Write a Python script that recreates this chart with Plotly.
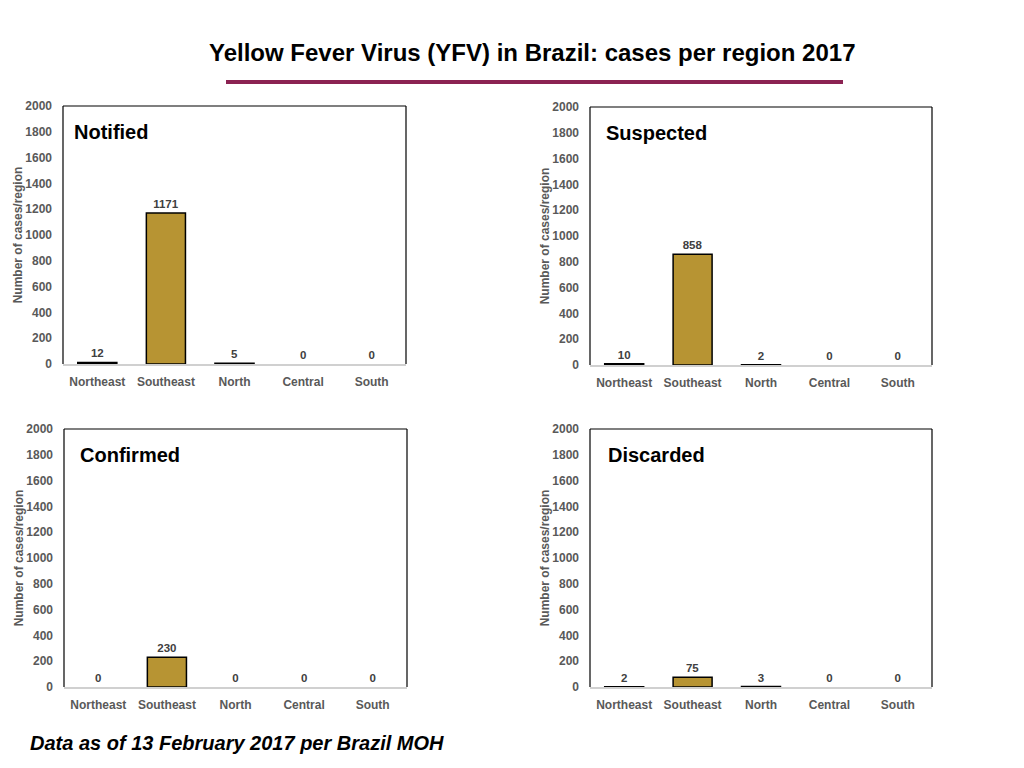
import plotly.graph_objects as go

regions = ['Northeast', 'Southeast', 'North', 'Central', 'South']
notified = [12, 1171, 5, 0, 0]
suspected = [10, 858, 2, 0, 0]
confirmed = [0, 230, 0, 0, 0]
discarded = [2, 75, 3, 0, 0]
y_ticks = list(range(0, 2001, 200))

panels = [
    ('Notified', notified),
    ('Suspected', suspected),
    ('Confirmed', confirmed),
    ('Discarded', discarded),
]

W, H = 1024, 768
# plot area boxes in pixels (left, right, top, bottom)
boxes = [(63, 406, 106, 364), (590, 932, 107, 365),
         (64, 407, 429, 687), (590, 932, 429, 687)]
title_x = [72, 604, 78, 606]

grey = '#595959'
bar_col = '#B79433'
fnt = 'Liberation Sans, Arial, sans-serif'

fig = go.Figure()
layout = dict(width=W, height=H, margin=dict(l=0, r=0, t=0, b=0),
              paper_bgcolor='white', plot_bgcolor='white',
              showlegend=False, bargap=0.43, shapes=[], annotations=[])

for i, (name, vals) in enumerate(panels):
    n = '' if i == 0 else str(i + 1)
    l, r, t, b = boxes[i]
    # zero bars get no outline
    outline = [1.5 if v > 0 else 0 for v in vals]
    fig.add_trace(go.Bar(
        x=regions, y=vals, xaxis='x' + n, yaxis='y' + n,
        marker=dict(color=bar_col, line=dict(color='black', width=outline)),
        text=[str(v) for v in vals], textposition='outside', cliponaxis=False,
        textfont=dict(family=fnt, size=11.5, color='#404040', weight='bold'),
    ))
    layout['xaxis' + n] = dict(
        domain=[l / W, r / W], anchor='y' + n, automargin=False,
        showline=True, linecolor='#d0d0d0', linewidth=1.5,
        showgrid=False, ticks='', ticklabelstandoff=6,
        tickfont=dict(family=fnt, size=12, color=grey, weight='bold'),
        fixedrange=True,
    )
    layout['yaxis' + n] = dict(
        domain=[1 - b / H, 1 - t / H], anchor='x' + n, automargin=False,
        range=[0, 2000], tickvals=y_ticks, showgrid=False, zeroline=False,
        showline=False, ticks='', ticklabelstandoff=10,
        tickfont=dict(family=fnt, size=12, color=grey, weight='bold'),
        title=dict(text='Number of cases/region', standoff=0,
                   font=dict(family=fnt, size=12, color=grey, weight='bold')),
    )
    xd = ('x' + n) + ' domain'
    yd = ('y' + n) + ' domain'
    for x0, y0, x1, y1 in [(0, 1, 1, 1), (0, 0, 0, 1), (1, 0, 1, 1)]:
        layout['shapes'].append(dict(type='line', xref=xd, yref=yd,
                                     x0=x0, y0=y0, x1=x1, y1=y1,
                                     line=dict(color='black', width=1.2)))
    layout['annotations'].append(dict(
        text=name, xref='paper', yref='paper', x=title_x[i] / W,
        y=1 - (t + 26) / H, xanchor='left', yanchor='middle', showarrow=False,
        font=dict(family=fnt, size=20, color='black', weight='bold')))

layout['annotations'].append(dict(
    text='Yellow Fever Virus (YFV) in Brazil: cases per region 2017',
    xref='paper', yref='paper', x=532 / W, y=1 - 53 / H,
    xanchor='center', yanchor='middle', showarrow=False,
    font=dict(family=fnt, size=24, color='black', weight='bold')))
layout['annotations'].append(dict(
    text='<i>Data as of 13 February 2017 per Brazil MOH</i>',
    xref='paper', yref='paper', x=28 / W, y=1 - 743 / H,
    xanchor='left', yanchor='middle', showarrow=False,
    font=dict(family=fnt, size=20, color='black', weight='bold')))
layout['shapes'].append(dict(type='line', xref='paper', yref='paper',
                             x0=226 / W, x1=843 / W, y0=1 - 82 / H, y1=1 - 82 / H,
                             line=dict(color='#8B2252', width=4)))

fig.update_layout(layout)
fig.write_html('out.html', config={'displayModeBar': False},
               post_script="document.body.style.margin='0';")
